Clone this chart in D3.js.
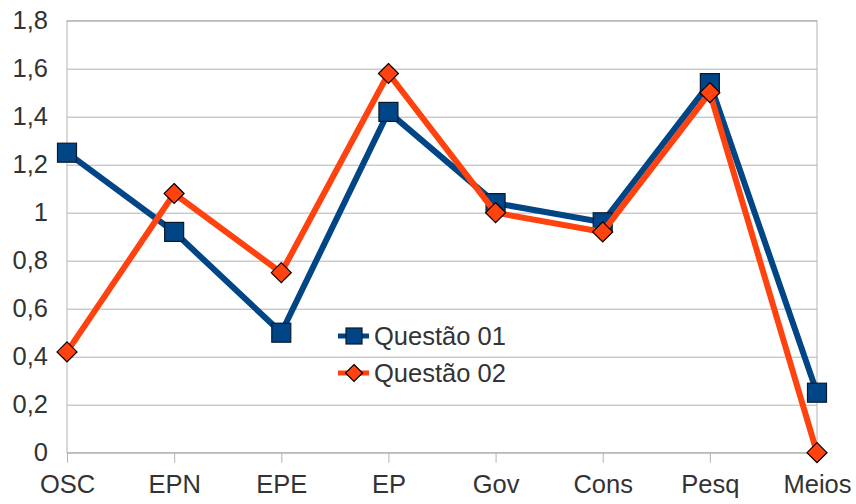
<!DOCTYPE html>
<html>
<head>
<meta charset="utf-8">
<script src="https://cdn.jsdelivr.net/npm/d3@7"></script>
<style>
  body { margin: 0; background: #fff; }
  text { font-family: "Liberation Sans", Arial, sans-serif; fill: #333; }
</style>
</head>
<body>
<svg class="chart" width="856" height="504"></svg>
<script>
var categories = ['OSC', 'EPN', 'EPE', 'EP', 'Gov', 'Cons', 'Pesq', 'Meios'];
var questao01 = [1.25, 0.92, 0.5, 1.42, 1.04, 0.96, 1.54, 0.25];
var questao02 = [0.42, 1.08, 0.75, 1.58, 1.0, 0.92, 1.5, 0];
var yTicks = [0, 0.2, 0.4, 0.6, 0.8, 1, 1.2, 1.4, 1.6, 1.8];

var series = [
  { name: 'Questão 01', values: questao01, color: '#004586', marker: 'square' },
  { name: 'Questão 02', values: questao02, color: '#ff420e', marker: 'diamond' }
];

var plotLeft = 67, plotRight = 817, plotTop = 20.7, plotBottom = 452.7;
var svg = d3.select('.chart');

var x = d3.scalePoint().domain(categories).range([plotLeft, plotRight]);
var y = d3.scaleLinear().domain([0, 1.8]).range([plotBottom, plotTop]);
var fmt = function(d) { return String(d3.format('.1~f')(d)).replace('.', ','); };

// gridlines + y ticks
svg.append('g')
  .attr('transform', 'translate(' + plotLeft + ',0)')
  .call(d3.axisLeft(y).tickValues(yTicks).tickSize(12).tickPadding(7).tickFormat(fmt))
  .call(function(g) {
    g.select('.domain').remove();
    g.selectAll('.tick line').attr('stroke', '#b3b3b3').attr('x2', plotRight - plotLeft);
    g.selectAll('.tick text').attr('font-size', 25.5).style('fill', '#333')
      .attr('font-family', '"Liberation Sans", Arial, sans-serif');
  });

// plot border
svg.append('rect')
  .attr('x', plotLeft).attr('y', plotTop)
  .attr('width', plotRight - plotLeft).attr('height', plotBottom - plotTop)
  .attr('fill', 'none').attr('stroke', '#b3b3b3');

// x axis
svg.append('g')
  .attr('transform', 'translate(0,' + plotBottom + ')')
  .call(d3.axisBottom(x).tickSize(10).tickPadding(12))
  .call(function(g) {
    g.select('.domain').remove();
    g.selectAll('.tick line').attr('stroke', '#b3b3b3');
    g.selectAll('.tick text').attr('font-size', 25.5).style('fill', '#333')
      .attr('font-family', '"Liberation Sans", Arial, sans-serif');
  });

var line = d3.line()
  .x(function(d, i) { return x(categories[i]); })
  .y(function(d) { return y(d); });

function drawMarker(sel, s, size) {
  if (s.marker === 'square') {
    sel.append('rect')
      .attr('x', -size / 2).attr('y', -size / 2)
      .attr('width', size).attr('height', size)
      .attr('fill', s.color).attr('stroke', '#0a1a2a').attr('stroke-width', 1.2);
  } else {
    var h = size / 2 + 0.5;
    sel.append('path')
      .attr('d', 'M0,' + (-h) + 'L' + h + ',0L0,' + h + 'L' + (-h) + ',0Z')
      .attr('fill', s.color).attr('stroke', '#000').attr('stroke-width', 1.2);
  }
}

series.forEach(function(s) {
  var g = svg.append('g');
  g.append('path')
    .datum(s.values)
    .attr('d', line)
    .attr('fill', 'none')
    .attr('stroke', s.color)
    .attr('stroke-width', 6)
    .attr('stroke-linejoin', 'miter');
  g.selectAll('g.pt')
    .data(s.values)
    .enter()
    .append('g')
    .attr('transform', function(d, i) { return 'translate(' + x(categories[i]) + ',' + y(d) + ')'; })
    .each(function() { drawMarker(d3.select(this), s, 19); });
});

// legend
var legend = svg.append('g').attr('transform', 'translate(338,336)');
series.forEach(function(s, i) {
  var row = legend.append('g').attr('transform', 'translate(0,' + (i * 37) + ')');
  row.append('line')
    .attr('x1', 0).attr('x2', 31)
    .attr('stroke', s.color).attr('stroke-width', 5);
  drawMarker(row.append('g').attr('transform', 'translate(16,0)'), s, 16);
  row.append('text')
    .attr('x', 36).attr('dy', '0.35em')
    .attr('font-size', 25.5)
    .text(s.name);
});
</script>
</body>
</html>
